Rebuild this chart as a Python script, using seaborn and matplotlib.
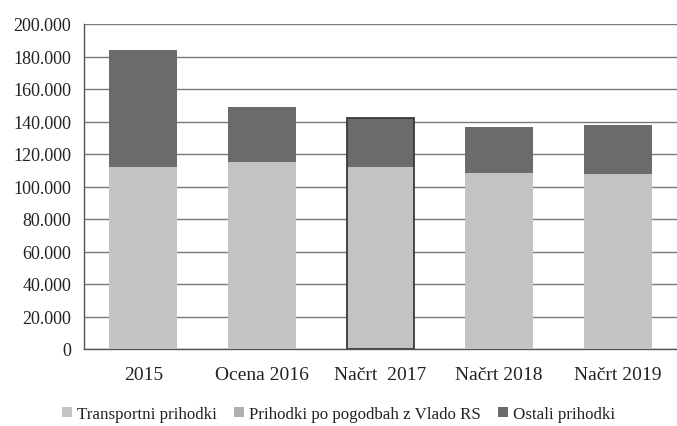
import matplotlib
matplotlib.use("Agg")
import matplotlib.pyplot as plt
import seaborn as sns
import pandas as pd
import numpy as np
from matplotlib.patches import Patch, Rectangle
from matplotlib.ticker import FuncFormatter, MultipleLocator

categories = ["2015", "Ocena 2016", "Načrt  2017", "Načrt 2018", "Načrt 2019"]
transportni = [112200, 114900, 112000, 108300, 107700]
pogodbe = [0, 0, 0, 0, 0]
ostali = [72000, 34200, 30200, 28300, 30300]
series_names = ["Transportni prihodki", "Prihodki po pogodbah z Vlado RS", "Ostali prihodki"]
colors = ["#c3c3c3", "#b0b0b0", "#6b6b6b"]

sns.set_theme(style="white")
plt.rcParams["font.family"] = "serif"
plt.rcParams["font.serif"] = ["Liberation Serif", "DejaVu Serif"]

df = pd.DataFrame({"cat": categories,
                   "t": transportni,
                   "p": pogodbe,
                   "o": ostali})
df["tp"] = df["t"] + df["p"]
df["total"] = df["tp"] + df["o"]

fig = plt.figure(figsize=(6.77, 4.27), dpi=100)
ax = fig.add_axes([84/677, 77/427, 593/677, 325/427])

w = 0.57
sns.barplot(data=df, x="cat", y="total", color=colors[2], width=w, ax=ax,
            saturation=1, linewidth=0, zorder=3)
sns.barplot(data=df, x="cat", y="tp", color=colors[1], width=w, ax=ax,
            saturation=1, linewidth=0, zorder=3)
sns.barplot(data=df, x="cat", y="t", color=colors[0], width=w, ax=ax,
            saturation=1, linewidth=0, zorder=3)

# outline of the third (selected) bar, taken from the drawn total bar
r = ax.patches[2]
ax.add_patch(Rectangle(r.get_xy(), r.get_width(), r.get_height(), fill=False,
                       edgecolor="#3a3a3a", linewidth=1.3, zorder=5))

n = len(categories)
ax.set_xlim(-0.5, n - 0.5)
ax.set_ylim(0, 200000)
ax.yaxis.set_major_locator(MultipleLocator(20000))
ax.yaxis.set_major_formatter(FuncFormatter(lambda v, _: f"{int(v):,}".replace(",", ".")))
ax.grid(axis="y", color="#7a7a7a", linewidth=1.0, zorder=0)
ax.set_axisbelow(True)
ax.set_xlabel("")
ax.set_ylabel("")
for s in ["top", "right"]:
    ax.spines[s].set_visible(False)
ax.spines["left"].set_color("#555555")
ax.spines["bottom"].set_color("#555555")
ax.spines["left"].set_linewidth(1.0)
ax.spines["bottom"].set_linewidth(1.0)
ax.tick_params(axis="y", length=0, pad=9, labelsize=13, colors="#222222")
ax.tick_params(axis="x", length=0, pad=12, labelsize=14, colors="#222222")

handles = [Patch(facecolor=c, edgecolor="none") for c in colors]
fig.legend(handles, series_names, loc="center", bbox_to_anchor=(0.5, 12/427),
           ncol=3, frameon=False, fontsize=12.2, handlelength=0.6, handleheight=0.6,
           handletextpad=0.3, columnspacing=1.0, labelcolor="#222222")

fig.savefig("out.png", dpi=100)
